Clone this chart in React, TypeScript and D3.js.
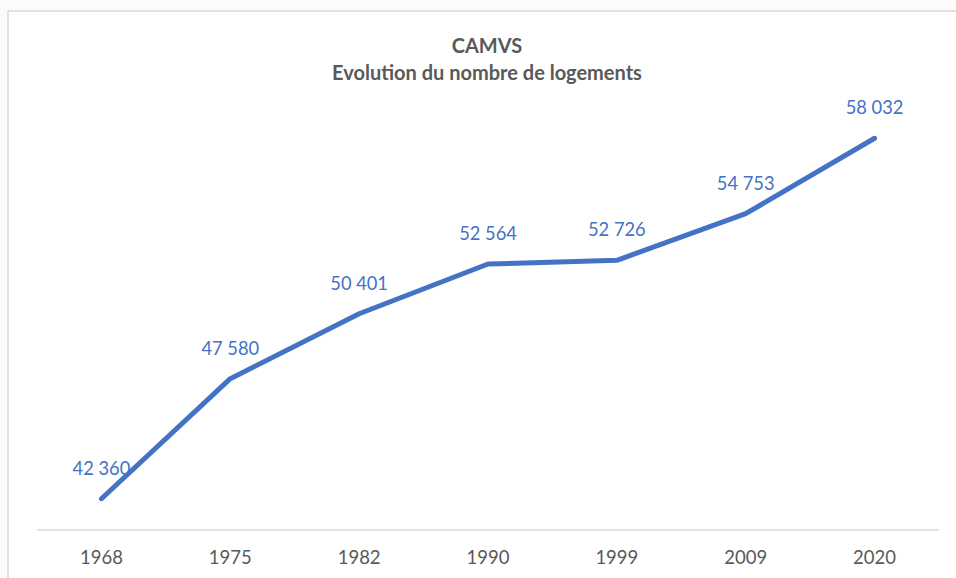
import React from "react";
import * as d3 from "d3";

const years: string[] = ["1968", "1975", "1982", "1990", "1999", "2009", "2020"];
const logements: number[] = [42360, 47580, 50401, 52564, 52726, 54753, 58032];
const titleLines: string[] = ["CAMVS", "Evolution du nombre de logements"];

const W = 956;
const H = 578;
const FONT = "Lato, 'Open Sans', sans-serif";
const BLUE = "#4472C4";

const fmt = (v: number) => d3.format(",")(v).replace(/,/g, " ");

export default function App() {
  const x = d3.scaleBand<string>().domain(years).range([37, 939]);
  const y = d3.scaleLinear().domain([41000, 60000]).range([530, 93]);
  const cx = (d: string) => (x(d) ?? 0) + x.bandwidth() / 2;
  const line = d3
    .line<number>()
    .x((_, i) => cx(years[i]))
    .y((d) => y(d));

  return (
    <svg
      width={W}
      height={H}
      style={{ position: "absolute", left: 0, top: 0, display: "block" }}
    >
      <rect x={0} y={0} width={W} height={H} fill="#fbfbfb" />
      <rect x={8} y={11} width={W + 10} height={H + 10} fill="#ffffff" stroke="#d9d9d9" strokeWidth={1.5} />
      {titleLines.map((t, i) => (
        <text
          key={t}
          x={487}
          y={45 + i * 27}
          textAnchor="middle"
          dominantBaseline="central"
          fontFamily={FONT}
          fontWeight="bold"
          fontSize={20}
          fill="#595959"
        >
          {t}
        </text>
      ))}
      <line x1={x.range()[0]} x2={x.range()[1]} y1={530} y2={530} stroke="#d9d9d9" strokeWidth={1.5} />
      {years.map((d) => (
        <text
          key={d}
          x={cx(d)}
          y={557}
          textAnchor="middle"
          dominantBaseline="central"
          fontFamily={FONT}
          fontSize={18.5}
          fill="#595959"
        >
          {d}
        </text>
      ))}
      <path
        d={line(logements) ?? ""}
        fill="none"
        stroke={BLUE}
        strokeWidth={5}
        strokeLinecap="round"
        strokeLinejoin="round"
      />
      {logements.map((v, i) => (
        <text
          key={years[i]}
          x={cx(years[i])}
          y={y(v) - 31}
          textAnchor="middle"
          dominantBaseline="central"
          fontFamily={FONT}
          fontSize={18.3}
          fill={BLUE}
        >
          {fmt(v)}
        </text>
      ))}
    </svg>
  );
}
